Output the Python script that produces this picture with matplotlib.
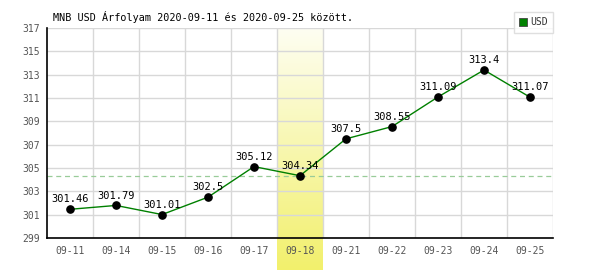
import matplotlib
matplotlib.use("Agg")
import matplotlib.pyplot as plt
import numpy as np
from matplotlib.colors import LinearSegmentedColormap

dates = ["09-11", "09-14", "09-15", "09-16", "09-17", "09-18", "09-21", "09-22", "09-23", "09-24", "09-25"]
values = [301.46, 301.79, 301.01, 302.5, 305.12, 304.34, 307.5, 308.55, 311.09, 313.4, 311.07]
value_labels = ["301.46", "301.79", "301.01", "302.5", "305.12", "304.34", "307.5", "308.55", "311.09", "313.4", "311.07"]
highlight_idx = 5
yticks = [299, 301, 303, 305, 307, 309, 311, 313, 315, 317]
title = "MNB USD Árfolyam 2020-09-11 és 2020-09-25 között."
series_name = "USD"

plt.rcParams['font.family'] = ['DejaVu Sans Mono', 'DejaVu Sans']

W, H = 600, 270
fig = plt.figure(figsize=(6, 2.7), dpi=100)
left, right, top, bottom = 47, 553, 28, 238
ax = fig.add_axes([left / W, 1 - bottom / H, (right - left) / W, (bottom - top) / H])

x = np.arange(len(dates))
ax.set_xlim(-0.5, len(dates) - 0.5)
ax.set_ylim(299, 317)

# highlight gradient band extending to figure bottom
ybot = 299 - (H - bottom) / ((bottom - top) / 18.0)
cmap = LinearSegmentedColormap.from_list("hl", ["#fefef2", "#f2f06c"])
grad = np.linspace(0, 1, 256).reshape(-1, 1)
ax.imshow(grad, extent=(highlight_idx - 0.5, highlight_idx + 0.5, ybot, 317),
          origin="upper", cmap=cmap, aspect="auto", clip_on=False, zorder=0)

# grid
for t in yticks:
    ax.axhline(t, color="#d8d8d8", lw=1, zorder=1)
for b in np.arange(0.5, len(dates) - 0.5 + 1, 1.0):
    ax.axvline(b, color="#d8d8d8", lw=1, zorder=1)

ax.axhline(values[highlight_idx], color="#99cc99", lw=0.9, ls=(0, (4, 3)), zorder=2)

ax.plot(x, values, color="#008000", lw=1, zorder=3)
ax.plot(x, values, "o", color="black", ms=5.2, zorder=4)
for xi, v, lab in zip(x, values, value_labels):
    ax.annotate(lab, (xi, v), xytext=(0, 3.5), textcoords="offset points",
                ha="center", va="bottom", fontsize=7.5, color="black", zorder=5)

ax.set_xticks(x)
ax.set_xticklabels(dates, fontsize=7, color="#555555")
ax.set_yticks(yticks)
ax.set_yticklabels([str(t) for t in yticks], fontsize=7, color="#555555")
ax.tick_params(length=0, pad=6)
ax.tick_params(axis="y", pad=5)
for s in ["top", "right"]:
    ax.spines[s].set_visible(False)
for s in ["left", "bottom"]:
    ax.spines[s].set_color("black")
    ax.spines[s].set_linewidth(1.2)
ax.patch.set_alpha(0)

fig.text(53 / W, 1 - 17 / H, title, fontsize=7.3, color="black", va="center", ha="left")

leg = ax.legend([plt.Line2D([], [], marker="s", color="#008000", ls="none", ms=6,
                            markeredgecolor="#444444", markeredgewidth=0.6)],
                [series_name], loc="upper right", bbox_to_anchor=(553 / W, 1 - 12 / H),
                bbox_transform=fig.transFigure, fontsize=7, frameon=True, fancybox=False,
                handlelength=0.8, handletextpad=0.3, borderpad=0.55, borderaxespad=0)
leg.get_frame().set_edgecolor("#d8d8d8")
leg.get_frame().set_linewidth(1)
for t in leg.get_texts():
    t.set_color("#333333")

fig.savefig("out.png", dpi=100)
